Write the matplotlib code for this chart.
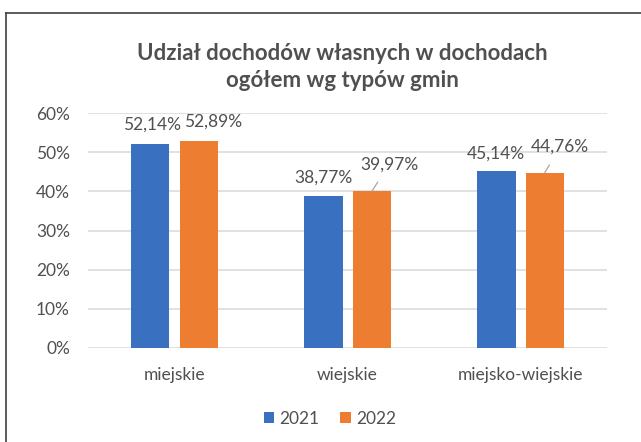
import numpy as np
import matplotlib
matplotlib.use('Agg')
import matplotlib.pyplot as plt
from matplotlib.lines import Line2D

categories = ['miejskie', 'wiejskie', 'miejsko-wiejskie']
years = ['2021', '2022']
share_2021 = [52.14, 38.77, 45.14]
share_2022 = [52.89, 39.97, 44.76]
y_ticks = [0, 10, 20, 30, 40, 50, 60]

title = 'Udział dochodów własnych w dochodach\nogółem wg typów gmin'

text_color = '#505050'
colors = ['#3A70C0', '#ED7D31']

plt.rcParams['font.family'] = ['Lato', 'DejaVu Sans']

fig = plt.figure(figsize=(6.41, 4.42), dpi=100)
ax = fig.add_axes([0.1373, 0.2127, 0.8097, 0.5316])

x = np.arange(len(categories))
width = 0.222
offset = 0.14

bars_a = ax.bar(x - offset, share_2021, width, color=colors[0], label=years[0], zorder=3)
bars_b = ax.bar(x + offset, share_2022, width, color=colors[1], label=years[1], zorder=3)

# label offsets in points (dx, dy) from the bar top, leader line or not
label_pos_a = [(1, 13.5, False), (0, 13, False), (0, 13, False)]
label_pos_b = [(10.5, 13.5, False), (12.5, 19.5, True), (11, 18.5, True)]

def fmt(v):
    return f'{v:.2f}%'.replace('.', ',')

for bars, vals, pos in [(bars_a, share_2021, label_pos_a), (bars_b, share_2022, label_pos_b)]:
    for b, v, (dx, dy, lead) in zip(bars, vals, pos):
        props = None
        if lead:
            props = dict(arrowstyle='-', color='#A6A6A6', lw=0.9, shrinkA=6, shrinkB=0)
        ax.annotate(fmt(v), xy=(b.get_x() + b.get_width() / 2, v),
                    xytext=(dx, dy), textcoords='offset points',
                    ha='center', va='center', fontsize=12.5, color=text_color,
                    arrowprops=props)

ax.set_xlim(-0.5, 2.5)
ax.set_ylim(0, 60)
ax.set_yticks(y_ticks)
ax.set_yticklabels([f'{t}%' for t in y_ticks])
ax.set_xticks(x)
ax.set_xticklabels(categories)
ax.tick_params(axis='both', length=0, labelsize=12.5, labelcolor=text_color)
ax.tick_params(axis='x', pad=14)
ax.tick_params(axis='y', pad=13)
ax.grid(axis='y', color='#D9D9D9', lw=1.1, zorder=0)
for s in ax.spines.values():
    s.set_visible(False)

fig.text(342 / 641, 1 - 67 / 442, title, ha='center', va='center',
         fontsize=16, fontweight='bold', color=text_color, linespacing=1.35)

fig.legend(loc='center', bbox_to_anchor=(330 / 641, 1 - 419 / 442), ncol=2,
           frameon=False, fontsize=12.5, labelcolor=text_color,
           handlelength=0.6, handleheight=0.6, handletextpad=0.3, columnspacing=1.2)

# outer chart frame
fig.add_artist(Line2D([6 / 641, 6 / 641], [0, 1 - 13 / 442], color='#3F3F3F', lw=1.2))
fig.add_artist(Line2D([6 / 641, 1], [1 - 13 / 442, 1 - 13 / 442], color='#3F3F3F', lw=1.2))

fig.savefig('out.png', dpi=100)
